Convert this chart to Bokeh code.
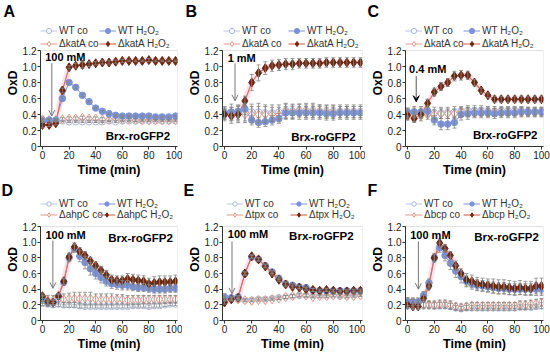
from bokeh.plotting import figure
from bokeh.layouts import gridplot
from bokeh.models import (ColumnDataSource, Whisker, TeeHead, Legend, LegendItem, Label,
                          Arrow, OpenHead, VeeHead, FixedTicker, CustomJSTickFormatter, Range1d,
                          BoxAnnotation)
from bokeh.embed import file_html
from bokeh.resources import INLINE

# ---------------- data ----------------
t5 = [0, 5, 10, 15, 20, 25, 30, 35, 40, 45, 50, 55, 60, 65, 70, 75, 80, 85, 90, 95, 100]
t4 = [0, 4, 8, 12, 16, 20, 24, 28, 32, 36, 40, 44, 48, 52, 56, 60, 64, 68, 72, 76, 80, 84, 88, 92, 96, 100]

x_ticks = [0, 20, 40, 60, 80, 100]
y_ticks = [0, 0.2, 0.4, 0.6, 0.8, 1.0, 1.2]
y_min, y_max = 0, 1.2

# Panel A (katA, 100 mM)
A_wt_co = [0.33, 0.33, 0.32, 0.32, 0.31, 0.31, 0.31, 0.31, 0.31, 0.31, 0.32, 0.31, 0.32, 0.32, 0.32, 0.32, 0.32, 0.32, 0.32, 0.32, 0.32]
A_wt_co_err = [0.02, 0.02, 0.01, 0.01, 0.01, 0.01, 0.01, 0.01, 0.01, 0.01, 0.01, 0.01, 0.01, 0.01, 0.01, 0.01, 0.01, 0.01, 0.01, 0.01, 0.01]
A_mut_co = [0.34, 0.33, 0.33, 0.34, 0.35, 0.35, 0.36, 0.35, 0.35, 0.34, 0.34, 0.35, 0.34, 0.34, 0.33, 0.33, 0.33, 0.33, 0.33, 0.33, 0.33]
A_mut_co_err = [0.03, 0.02, 0.02, 0.02, 0.02, 0.02, 0.02, 0.02, 0.02, 0.02, 0.02, 0.02, 0.02, 0.02, 0.02, 0.01, 0.01, 0.01, 0.01, 0.01, 0.01]
A_wt_h = [0.32, 0.33, 0.33, 0.60, 0.80, 0.74, 0.64, 0.56, 0.48, 0.44, 0.41, 0.39, 0.38, 0.38, 0.38, 0.38, 0.38, 0.37, 0.37, 0.37, 0.38]
A_wt_h_err = [0.02, 0.01, 0.01, 0.02, 0.02, 0.02, 0.02, 0.01, 0.01, 0.01, 0.01, 0.01, 0.01, 0.01, 0.01, 0.01, 0.01, 0.01, 0.01, 0.01, 0.01]
A_mut_h = [0.27, 0.27, 0.29, 0.70, 0.99, 1.01, 1.02, 1.03, 1.04, 1.05, 1.05, 1.06, 1.07, 1.07, 1.07, 1.07, 1.08, 1.07, 1.07, 1.07, 1.07]
A_mut_h_err = [0.03, 0.02, 0.02, 0.03, 0.02, 0.03, 0.04, 0.03, 0.02, 0.02, 0.02, 0.02, 0.02, 0.01, 0.01, 0.01, 0.02, 0.01, 0.01, 0.01, 0.01]

# Panel B (katA, 1 mM)
B_wt_co = [0.42, 0.43, 0.42, 0.42, 0.43, 0.43, 0.42, 0.42, 0.43, 0.45, 0.44, 0.45, 0.45, 0.45, 0.44, 0.44, 0.44, 0.44, 0.44, 0.44, 0.44]
B_wt_co_err = [0.08, 0.10, 0.10, 0.10, 0.10, 0.11, 0.10, 0.10, 0.09, 0.09, 0.09, 0.08, 0.09, 0.09, 0.08, 0.08, 0.08, 0.08, 0.08, 0.08, 0.08]
B_mut_co = [0.40, 0.39, 0.40, 0.40, 0.40, 0.40, 0.40, 0.40, 0.40, 0.44, 0.44, 0.45, 0.44, 0.44, 0.44, 0.43, 0.43, 0.43, 0.43, 0.43, 0.43]
B_mut_co_err = [0.08, 0.10, 0.10, 0.10, 0.10, 0.10, 0.10, 0.09, 0.09, 0.09, 0.08, 0.08, 0.08, 0.08, 0.08, 0.08, 0.08, 0.07, 0.07, 0.07, 0.07]
B_wt_h = [0.42, 0.43, 0.44, 0.47, 0.33, 0.30, 0.31, 0.33, 0.35, 0.42, 0.42, 0.42, 0.42, 0.42, 0.42, 0.41, 0.41, 0.42, 0.42, 0.42, 0.42]
B_wt_h_err = [0.06, 0.06, 0.07, 0.07, 0.06, 0.06, 0.06, 0.06, 0.06, 0.08, 0.08, 0.08, 0.08, 0.08, 0.08, 0.08, 0.08, 0.08, 0.08, 0.08, 0.08]
B_mut_h = [0.40, 0.38, 0.40, 0.57, 0.80, 0.92, 0.98, 1.01, 1.02, 1.03, 1.03, 1.04, 1.04, 1.04, 1.04, 1.05, 1.05, 1.05, 1.05, 1.05, 1.05]
B_mut_h_err = [0.06, 0.06, 0.06, 0.06, 0.10, 0.10, 0.08, 0.07, 0.07, 0.07, 0.07, 0.06, 0.06, 0.06, 0.06, 0.06, 0.06, 0.06, 0.06, 0.06, 0.06]

# Panel C (katA, 0.4 mM)
C_wt_co = [0.42, 0.43, 0.43, 0.44, 0.42, 0.42, 0.42, 0.43, 0.44, 0.45, 0.45, 0.45, 0.44, 0.44, 0.45, 0.45, 0.45, 0.45, 0.44, 0.44, 0.44]
C_wt_co_err = [0.06, 0.07, 0.07, 0.07, 0.07, 0.07, 0.07, 0.07, 0.06, 0.06, 0.06, 0.06, 0.06, 0.06, 0.05, 0.05, 0.05, 0.05, 0.05, 0.05, 0.05]
C_mut_co = [0.38, 0.37, 0.38, 0.40, 0.40, 0.41, 0.41, 0.41, 0.43, 0.43, 0.42, 0.43, 0.43, 0.43, 0.43, 0.43, 0.43, 0.43, 0.43, 0.43, 0.43]
C_mut_co_err = [0.05, 0.06, 0.06, 0.06, 0.06, 0.06, 0.06, 0.06, 0.06, 0.06, 0.05, 0.05, 0.05, 0.05, 0.05, 0.05, 0.05, 0.05, 0.05, 0.05, 0.05]
C_wt_h = [0.43, 0.43, 0.43, 0.44, 0.33, 0.28, 0.28, 0.30, 0.40, 0.41, 0.42, 0.42, 0.42, 0.41, 0.42, 0.42, 0.42, 0.43, 0.43, 0.43, 0.43]
C_wt_h_err = [0.05, 0.05, 0.05, 0.05, 0.06, 0.07, 0.07, 0.07, 0.07, 0.07, 0.06, 0.06, 0.06, 0.06, 0.06, 0.06, 0.06, 0.06, 0.06, 0.06, 0.06]
C_mut_h = [0.39, 0.35, 0.40, 0.54, 0.68, 0.75, 0.80, 0.88, 0.89, 0.89, 0.80, 0.70, 0.64, 0.59, 0.59, 0.59, 0.59, 0.59, 0.59, 0.59, 0.59]
C_mut_h_err = [0.05, 0.05, 0.05, 0.05, 0.05, 0.05, 0.05, 0.06, 0.06, 0.05, 0.04, 0.03, 0.03, 0.04, 0.04, 0.04, 0.04, 0.04, 0.04, 0.04, 0.04]

# Panel D (ahpC, 100 mM)
D_wt_co = [0.22, 0.21, 0.20, 0.21, 0.20, 0.20, 0.20, 0.19, 0.18, 0.18, 0.18, 0.18, 0.18, 0.18, 0.18, 0.18, 0.18, 0.19, 0.19, 0.19, 0.18, 0.19, 0.19, 0.20, 0.21, 0.21]
D_wt_co_err = [0.03, 0.03, 0.03, 0.03, 0.03, 0.03, 0.03, 0.03, 0.02, 0.02, 0.02, 0.02, 0.02, 0.02, 0.02, 0.02, 0.02, 0.02, 0.02, 0.02, 0.02, 0.02, 0.02, 0.02, 0.02, 0.02]
D_mut_co = [0.27, 0.26, 0.26, 0.27, 0.27, 0.28, 0.28, 0.28, 0.28, 0.28, 0.27, 0.27, 0.27, 0.27, 0.27, 0.27, 0.26, 0.26, 0.26, 0.27, 0.27, 0.27, 0.27, 0.27, 0.27, 0.27]
D_mut_co_err = [0.05, 0.06, 0.06, 0.06, 0.07, 0.07, 0.08, 0.08, 0.08, 0.08, 0.07, 0.07, 0.07, 0.07, 0.06, 0.06, 0.06, 0.06, 0.06, 0.05, 0.05, 0.05, 0.05, 0.05, 0.05, 0.05]
D_wt_h = [0.28, 0.23, 0.23, 0.31, 0.49, 0.80, 0.92, 0.82, 0.74, 0.66, 0.60, 0.55, 0.50, 0.47, 0.46, 0.45, 0.45, 0.43, 0.42, 0.42, 0.41, 0.40, 0.40, 0.40, 0.41, 0.41]
D_wt_h_err = [0.03, 0.03, 0.03, 0.03, 0.04, 0.05, 0.05, 0.07, 0.08, 0.08, 0.07, 0.07, 0.06, 0.06, 0.06, 0.06, 0.06, 0.05, 0.05, 0.05, 0.05, 0.05, 0.05, 0.05, 0.05, 0.05]
D_mut_h = [0.31, 0.24, 0.23, 0.31, 0.50, 0.81, 0.94, 0.88, 0.83, 0.76, 0.70, 0.64, 0.58, 0.52, 0.51, 0.51, 0.53, 0.52, 0.51, 0.50, 0.47, 0.48, 0.49, 0.49, 0.49, 0.50]
D_mut_h_err = [0.03, 0.03, 0.03, 0.03, 0.04, 0.05, 0.05, 0.05, 0.05, 0.05, 0.05, 0.05, 0.06, 0.06, 0.06, 0.06, 0.07, 0.07, 0.07, 0.07, 0.07, 0.08, 0.08, 0.08, 0.08, 0.08]

# Panel E (tpx, 100 mM)
E_wt_co = [0.28, 0.28, 0.27, 0.26, 0.26, 0.27, 0.27, 0.28, 0.29, 0.30, 0.31, 0.32, 0.32, 0.31, 0.31, 0.31, 0.32, 0.31, 0.31, 0.32, 0.33]
E_wt_co_err = [0.02, 0.02, 0.02, 0.02, 0.02, 0.02, 0.02, 0.02, 0.02, 0.02, 0.02, 0.02, 0.02, 0.02, 0.02, 0.02, 0.02, 0.02, 0.02, 0.02, 0.02]
E_mut_co = [0.27, 0.27, 0.27, 0.26, 0.25, 0.26, 0.26, 0.27, 0.28, 0.30, 0.31, 0.33, 0.32, 0.30, 0.31, 0.31, 0.32, 0.32, 0.31, 0.31, 0.32]
E_mut_co_err = [0.02, 0.02, 0.01, 0.01, 0.01, 0.01, 0.01, 0.01, 0.01, 0.02, 0.02, 0.02, 0.02, 0.01, 0.01, 0.01, 0.01, 0.01, 0.01, 0.01, 0.01]
E_wt_h = [0.30, 0.29, 0.30, 0.60, 0.81, 0.78, 0.70, 0.62, 0.54, 0.47, 0.45, 0.43, 0.42, 0.39, 0.38, 0.38, 0.38, 0.38, 0.38, 0.38, 0.38]
E_wt_h_err = [0.04, 0.02, 0.02, 0.02, 0.02, 0.02, 0.02, 0.02, 0.02, 0.02, 0.02, 0.02, 0.02, 0.02, 0.01, 0.01, 0.01, 0.01, 0.01, 0.01, 0.01]
E_mut_h = [0.23, 0.27, 0.29, 0.60, 0.82, 0.78, 0.69, 0.60, 0.52, 0.46, 0.43, 0.42, 0.40, 0.39, 0.38, 0.39, 0.38, 0.37, 0.37, 0.38, 0.38]
E_mut_h_err = [0.02, 0.02, 0.02, 0.02, 0.02, 0.02, 0.02, 0.02, 0.02, 0.03, 0.02, 0.02, 0.02, 0.02, 0.02, 0.02, 0.02, 0.02, 0.02, 0.02, 0.02]

# Panel F (bcp, 100 mM)
F_wt_co = [0.22, 0.22, 0.21, 0.20, 0.20, 0.19, 0.19, 0.19, 0.18, 0.16, 0.15, 0.16, 0.16, 0.16, 0.16, 0.16, 0.16, 0.16, 0.16, 0.16, 0.16, 0.17, 0.17, 0.17, 0.18, 0.19]
F_wt_co_err = [0.05, 0.05, 0.05, 0.04, 0.04, 0.04, 0.04, 0.04, 0.04, 0.03, 0.03, 0.03, 0.03, 0.03, 0.03, 0.03, 0.03, 0.03, 0.03, 0.03, 0.03, 0.03, 0.03, 0.03, 0.03, 0.04]
F_mut_co = [0.22, 0.21, 0.20, 0.20, 0.20, 0.20, 0.21, 0.21, 0.20, 0.18, 0.17, 0.18, 0.19, 0.19, 0.19, 0.19, 0.19, 0.19, 0.19, 0.19, 0.19, 0.20, 0.20, 0.21, 0.22, 0.23]
F_mut_co_err = [0.07, 0.06, 0.06, 0.05, 0.05, 0.05, 0.05, 0.05, 0.05, 0.04, 0.04, 0.04, 0.04, 0.04, 0.04, 0.04, 0.04, 0.04, 0.04, 0.04, 0.04, 0.05, 0.05, 0.05, 0.05, 0.05]
F_wt_h = [0.24, 0.24, 0.24, 0.32, 0.48, 0.80, 0.93, 0.83, 0.73, 0.63, 0.56, 0.50, 0.47, 0.45, 0.44, 0.43, 0.42, 0.41, 0.41, 0.40, 0.40, 0.40, 0.40, 0.40, 0.40, 0.40]
F_wt_h_err = [0.05, 0.05, 0.05, 0.05, 0.05, 0.05, 0.06, 0.07, 0.08, 0.08, 0.08, 0.07, 0.07, 0.07, 0.07, 0.07, 0.07, 0.07, 0.07, 0.07, 0.07, 0.07, 0.07, 0.07, 0.08, 0.08]
F_mut_h = [0.20, 0.18, 0.18, 0.28, 0.44, 0.80, 0.99, 0.92, 0.83, 0.70, 0.60, 0.52, 0.50, 0.47, 0.46, 0.45, 0.44, 0.43, 0.43, 0.42, 0.41, 0.42, 0.41, 0.41, 0.44, 0.44]
F_mut_h_err = [0.04, 0.04, 0.04, 0.04, 0.04, 0.05, 0.05, 0.05, 0.05, 0.06, 0.06, 0.08, 0.08, 0.08, 0.08, 0.08, 0.09, 0.09, 0.09, 0.09, 0.09, 0.09, 0.09, 0.09, 0.10, 0.10]

panel_letters = ["A", "B", "C", "D", "E", "F"]
mutants = ["katA", "katA", "katA", "ahpC", "tpx", "bcp"]
doses = ["100 mM", "1 mM", "0.4 mM", "100 mM", "100 mM", "100 mM"]
sensor_label = "Brx-roGFP2"

# ---------------- style ----------------
FONT = "Liberation Sans"
C_WT_CO = "#a9b6d9"
C_WT_CO_LINE = "#bcc6e2"
C_WT_H = "#7b93d9"
C_MUT_CO = "#e19a88"
C_MUT_H = "#6c2810"
C_MUT_H_LINE = "#d8705e"
C_HALO = "#f27aa6"
C_ERR = "#858585"

# column geometry: (left border, frame width, right border)
COLS = [(40, 137, 5), (40, 140, 3), (40, 138, 7)]
# row geometry: (top border, legend strip, data height, bottom border, legend row height, legend drop)
ROWS = [(19, 31, 96, 33, 13, 5), (19, 28, 94, 37, 11, 0)]

# per panel layout settings
cfg = {
    "A": dict(t=t5, row=0, col=0, dose_xy=(2, 1.12), arrow=(7, 1.04, 0.38, "open"), brx=(96, 0.13), leg=(0, 59), lt=-37),
    "B": dict(t=t5, row=0, col=1, dose_xy=(2.3, 1.11), arrow=(7.7, 1.04, 0.57, "open"), brx=(96.5, 0.12), leg=(1, 66), lt=-37),
    "C": dict(t=t5, row=0, col=2, dose_xy=(1.2, 0.97), arrow=(6.5, 0.88, 0.56, "vee"), brx=(97, 0.14), leg=(0, 58), lt=-38),
    "D": dict(t=t4, row=1, col=0, dose_xy=(2.2, 1.09), arrow=(7.8, 1.02, 0.41, "open"), brx=(98, 1.05), leg=(0, 58), lt=-39),
    "E": dict(t=t5, row=1, col=1, dose_xy=(2.4, 1.10), arrow=(5.5, 1.01, 0.34, "open"), brx=(95, 1.08), leg=(4, 68), lt=-39),
    "F": dict(t=t4, row=1, col=2, dose_xy=(2, 1.09), arrow=(8.1, 1.01, 0.40, "open"), brx=(98, 1.07), leg=(0, 58), lt=-38),
}
series = {
    "A": (A_wt_co, A_wt_co_err, A_mut_co, A_mut_co_err, A_wt_h, A_wt_h_err, A_mut_h, A_mut_h_err),
    "B": (B_wt_co, B_wt_co_err, B_mut_co, B_mut_co_err, B_wt_h, B_wt_h_err, B_mut_h, B_mut_h_err),
    "C": (C_wt_co, C_wt_co_err, C_mut_co, C_mut_co_err, C_wt_h, C_wt_h_err, C_mut_h, C_mut_h_err),
    "D": (D_wt_co, D_wt_co_err, D_mut_co, D_mut_co_err, D_wt_h, D_wt_h_err, D_mut_h, D_mut_h_err),
    "E": (E_wt_co, E_wt_co_err, E_mut_co, E_mut_co_err, E_wt_h, E_wt_h_err, E_mut_h, E_mut_h_err),
    "F": (F_wt_co, F_wt_co_err, F_mut_co, F_mut_co_err, F_wt_h, F_wt_h_err, F_mut_h, F_mut_h_err),
}


def make_panel(letter, mutant, dose):
    c = cfg[letter]
    t = c["t"]
    bl, fw, br = COLS[c["col"]]
    bt, strip, data_h, bb, rh, drop = ROWS[c["row"]]
    fh = strip + data_h
    y_end = y_max * fh / data_h

    p = figure(frame_width=fw, frame_height=fh, output_backend="svg", toolbar_location=None,
               x_range=Range1d(-1.5, 101.5), y_range=Range1d(y_min, y_end),
               min_border_left=bl, min_border_right=br, min_border_top=bt, min_border_bottom=bb,
               background_fill_color="white", border_fill_color="white")
    p.xgrid.visible = False
    p.ygrid.visible = False
    p.outline_line_color = None
    p.add_layout(BoxAnnotation(bottom=y_min, top=y_max, fill_alpha=0, line_color="#9a9a9a",
                               line_width=1, level="underlay"))

    # panel letter as title
    p.title.text = letter
    p.title.align = "left"
    p.title.offset = c["lt"]
    p.title.standoff = 0
    p.title.text_font = FONT
    p.title.text_font_style = "bold"
    p.title.text_font_size = "16px"
    p.title.text_color = "black"

    for ax in (p.xaxis[0], p.yaxis[0]):
        ax.axis_line_color = "#333333"
        ax.major_tick_line_color = "#333333"
        ax.major_tick_in = 0
        ax.major_tick_out = 3
        ax.minor_tick_in = 0
        ax.minor_tick_out = 0
        ax.major_label_text_font = FONT
        ax.major_label_text_font_size = "10px"
        ax.major_label_text_color = "#222222"
        ax.major_label_standoff = 1
        ax.axis_label_text_font = FONT
        ax.axis_label_text_font_style = "bold"
        ax.axis_label_text_color = "black"
        ax.axis_label_standoff = 1
    p.yaxis.axis_label_standoff = 0
    p.yaxis.bounds = (y_min, y_max)
    p.xaxis.ticker = FixedTicker(ticks=x_ticks)
    p.yaxis.ticker = FixedTicker(ticks=y_ticks)
    p.yaxis.formatter = CustomJSTickFormatter(code="return tick == 0 ? '0' : tick.toFixed(1);")
    p.xaxis.axis_label = "Time (min)"
    p.yaxis.axis_label = "OxD"
    p.xaxis.axis_label_text_font_size = "12.5px"
    p.yaxis.axis_label_text_font_size = "12px"

    wt_co, wt_co_e, mut_co, mut_co_e, wt_h, wt_h_e, mut_h, mut_h_e = series[letter]

    def src(y, e):
        return ColumnDataSource(dict(x=t, y=y, lo=[a - b for a, b in zip(y, e)], hi=[a + b for a, b in zip(y, e)]))

    s_wc, s_mc, s_wh, s_mh = src(wt_co, wt_co_e), src(mut_co, mut_co_e), src(wt_h, wt_h_e), src(mut_h, mut_h_e)

    # pinkish halo of the mutant H2O2 trace
    p.line("x", "y", source=s_mh, line_color=C_HALO, line_width=6, line_alpha=0.22)

    l_wc = p.line("x", "y", source=s_wc, line_color=C_WT_CO_LINE, line_width=1)
    l_mc = p.line("x", "y", source=s_mc, line_color=C_MUT_CO, line_width=1)
    l_wh = p.line("x", "y", source=s_wh, line_color=C_WT_H, line_width=1)
    l_mh = p.line("x", "y", source=s_mh, line_color=C_MUT_H_LINE, line_width=1.2)

    for s in (s_wc, s_mc, s_wh, s_mh):
        p.add_layout(Whisker(source=s, base="x", lower="lo", upper="hi", level="glyph",
                             line_color=C_ERR, line_width=0.8,
                             upper_head=TeeHead(size=4, line_color=C_ERR, line_width=0.8),
                             lower_head=TeeHead(size=4, line_color=C_ERR, line_width=0.8)))

    m_wc = p.scatter("x", "y", source=s_wc, marker="circle", size=6.5, fill_color="white",
                     line_color=C_WT_CO, line_width=1)
    m_mc = p.scatter("x", "y", source=s_mc, marker="diamond", size=9, fill_color="white",
                     line_color=C_MUT_CO, line_width=1)
    m_wh = p.scatter("x", "y", source=s_wh, marker="circle", size=6.5, fill_color=C_WT_H,
                     line_color=C_WT_H, line_width=1)
    m_mh = p.scatter("x", "y", source=s_mh, marker="diamond", size=9, fill_color=C_MUT_H,
                     line_color=C_MUT_H, line_width=1)

    # legends (two columns, hanging from the top of the frame, above the data area)
    lx1, lx2 = c["leg"]
    col1 = [LegendItem(label="WT co", renderers=[l_wc, m_wc]),
            LegendItem(label="\u0394" + mutant + " co", renderers=[l_mc, m_mc])]
    col2 = [LegendItem(label="WT H\u2082O\u2082", renderers=[l_wh, m_wh]),
            LegendItem(label="\u0394" + mutant + " H\u2082O\u2082", renderers=[l_mh, m_mh])]
    for items, lx in ((col1, lx1), (col2, lx2)):
        leg = Legend(items=items, location=(lx, fh - 2 * rh - drop), orientation="vertical",
                     padding=0, margin=0, spacing=0, label_height=rh, glyph_height=rh,
                     glyph_width=17, label_standoff=2,
                     label_text_font=FONT, label_text_font_size="10px", label_text_color="#333333",
                     background_fill_alpha=0, border_line_alpha=0)
        p.add_layout(leg)

    # dose annotation and arrow
    dx, dy = c["dose_xy"]
    p.add_layout(Label(x=dx, y=dy, text=dose, text_font=FONT, text_font_style="bold",
                       text_font_size="11px", text_baseline="middle", text_color="black"))
    ax_, ay0, ay1, style = c["arrow"]
    if style == "vee":
        head = VeeHead(size=6, fill_color="black", line_color="black")
        acol = "#555555"
    else:
        head = OpenHead(size=6, line_color="#777777", line_width=1)
        acol = "#777777"
    p.add_layout(Arrow(end=head, x_start=ax_, y_start=ay0, x_end=ax_, y_end=ay1,
                       line_color=acol, line_width=1))

    bx, by = c["brx"]
    p.add_layout(Label(x=bx, y=by, text=sensor_label, text_font=FONT, text_font_style="bold",
                       text_font_size="11.5px", text_align="right", text_baseline="middle",
                       text_color="black"))
    return p


figs = [make_panel(l, m, d) for l, m, d in zip(panel_letters, mutants, doses)]
grid = gridplot([figs[:3], figs[3:]], toolbar_location=None)

open("out.html", "w").write(file_html(grid, INLINE))
